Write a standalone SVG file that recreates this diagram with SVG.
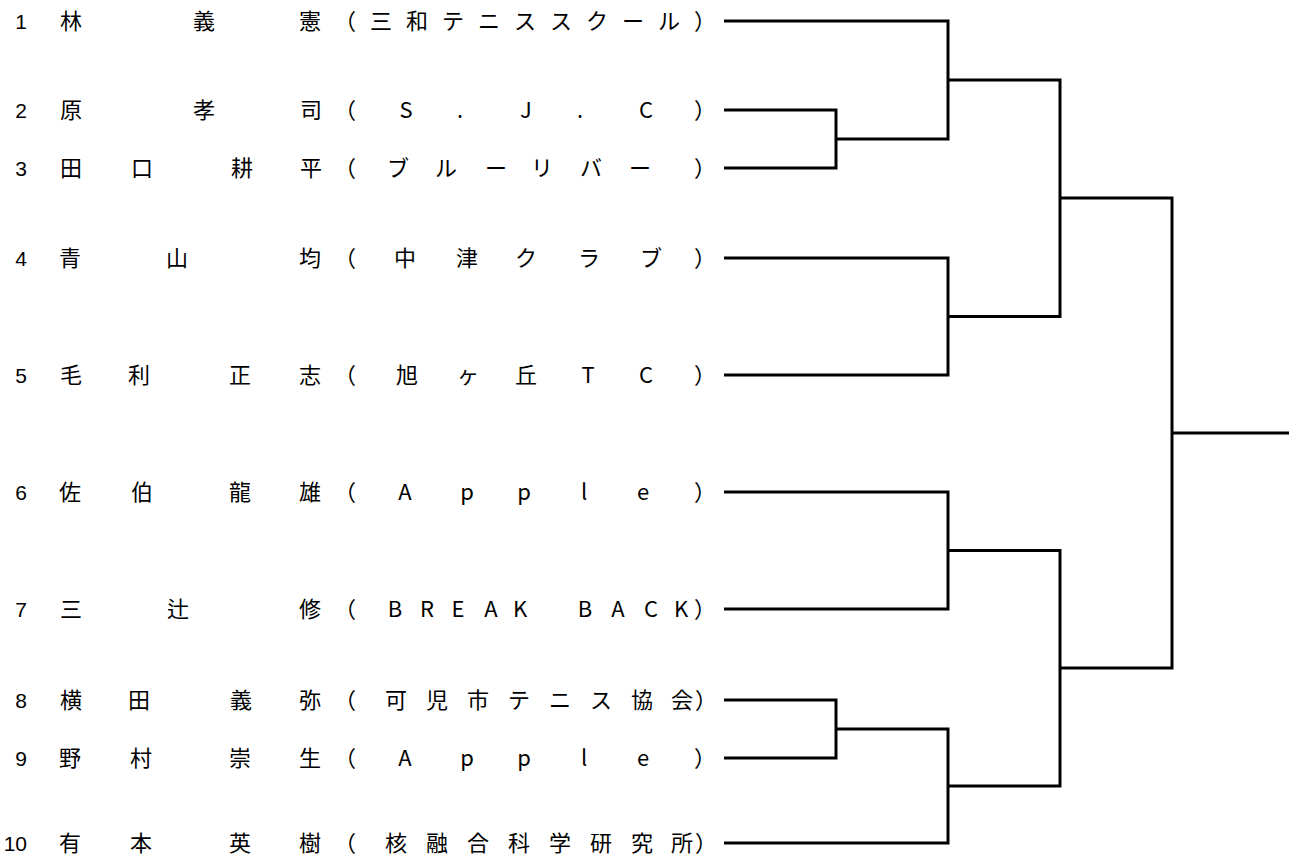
<svg xmlns="http://www.w3.org/2000/svg" width="1289" height="863" viewBox="0 0 1289 863">
<style>
.t{font-family:"Noto Sans CJK JP","Noto Sans CJK SC",sans-serif;font-size:22px;fill:#000;text-anchor:middle}
.n{font-family:"Liberation Sans",Arial,sans-serif;font-size:21px;fill:#000;text-anchor:end}
.c{fill:none;stroke:#000;stroke-width:3;stroke-linejoin:miter;stroke-linecap:butt}
</style>
<rect width="1289" height="863" fill="#fff"/>
<g id="p1"><text class="n" x="27" y="29">1</text><text class="t" x="71 204 310" y="29">林義憲</text><text class="t" x="345 381 417 453 489 525 561 597 633 669 705" y="29">（三和テニススクール）</text></g>
<g id="p2"><text class="n" x="27" y="118">2</text><text class="t" x="71 204 311" y="118">原孝司</text><text class="t" x="345 406 460 526 580 646 705" y="118">（S.J.C）</text></g>
<g id="p3"><text class="n" x="27" y="176">3</text><text class="t" x="71 142 242 311" y="176">田口耕平</text><text class="t" x="345 398 446 496 542 591 640 705" y="176">（ブルーリバー）</text></g>
<g id="p4"><text class="n" x="27" y="266">4</text><text class="t" x="70 177 310" y="266">青山均</text><text class="t" x="345 405 467 526 589 651 705" y="266">（中津クラブ）</text></g>
<g id="p5"><text class="n" x="27" y="383">5</text><text class="t" x="71 139 240 310" y="383">毛利正志</text><text class="t" x="345 407 468 526 588 646 705" y="383">（旭ヶ丘TC）</text></g>
<g id="p6"><text class="n" x="27" y="500">6</text><text class="t" x="70 142 240 310" y="500">佐伯龍雄</text><text class="t" x="345 405 467 524 584 643 705" y="500">（Apple）</text></g>
<g id="p7"><text class="n" x="27" y="617">7</text><text class="t" x="71 178 310" y="617">三辻修</text><text class="t" x="345 395 427 458 491 520 552 585 618 651 681 705" y="617">（BREAK BACK）</text></g>
<g id="p8"><text class="n" x="27" y="708">8</text><text class="t" x="71 139 241 310" y="708">横田義弥</text><text class="t" x="345 396 437 478 519 560 601 642 682 706" y="708">（可児市テニス協会）</text></g>
<g id="p9"><text class="n" x="27" y="766">9</text><text class="t" x="70 141 240 310" y="766">野村崇生</text><text class="t" x="345 405 467 524 584 643 705" y="766">（Apple）</text></g>
<g id="p10"><text class="n" x="27" y="851">10</text><text class="t" x="70 141 240 310" y="851">有本英樹</text><text class="t" x="345 396 437 478 519 560 601 642 682 706" y="851">（核融合科学研究所）</text></g>
<g id="connectors">
<path class="c" d="M724 21 H948 V139 H836"/>
<path class="c" d="M724 110 H836 V168 H724"/>
<path class="c" d="M948 80 H1060 V316.5 H948"/>
<path class="c" d="M724 258 H948 V375 H724"/>
<path class="c" d="M1060 198 H1172 V668 H1060"/>
<path class="c" d="M724 492 H948 V609 H724"/>
<path class="c" d="M948 550.5 H1060 V786 H948"/>
<path class="c" d="M724 700 H836 V758 H724"/>
<path class="c" d="M836 729 H948 V843 H724"/>
<path class="c" d="M1172 433 H1289"/>
</g>
</svg>
